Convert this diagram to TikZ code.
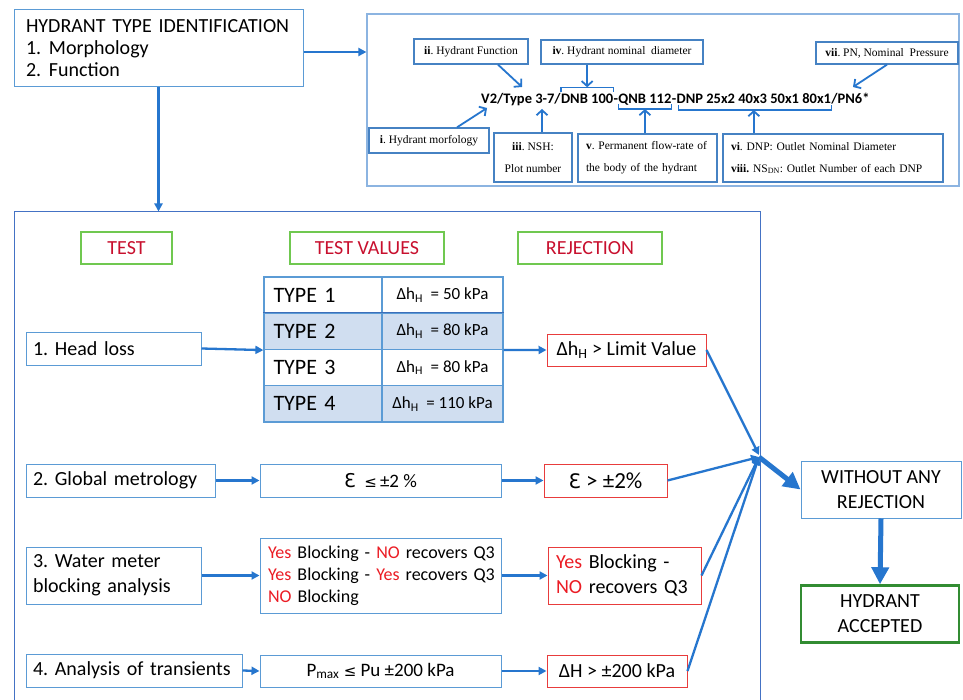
\documentclass[tikz,border=0pt]{standalone}
\usepackage{fontspec}
\setmainfont{Carlito}
\newfontfamily\tnr{Liberation Serif}
\newfontfamily\dejavu{DejaVu Sans}
\usetikzlibrary{arrows.meta}
\definecolor{bbord}{RGB}{91,155,213}
\definecolor{lbord}{RGB}{68,114,196}
\definecolor{tbord}{RGB}{140,180,225}
\definecolor{sbord}{RGB}{70,130,195}
\definecolor{arrblue}{RGB}{38,118,206}
\definecolor{rbord}{RGB}{232,60,60}
\definecolor{gbord}{RGB}{112,200,80}
\definecolor{dgbord}{RGB}{50,140,50}
\definecolor{headred}{RGB}{200,16,46}
\definecolor{yred}{RGB}{235,28,36}
\definecolor{tfill}{RGB}{208,222,240}
\definecolor{tdark}{RGB}{60,110,185}
\newcommand\myfs[2]{\fontsize{#1pt}{#2pt}\selectfont}
\newcommand\ry[1]{\textcolor{yred}{#1}}
\frenchspacing
\begin{document}
\begin{tikzpicture}[x=1pt,y=-1pt,
  blbox/.style={draw=bbord,line width=1pt,fill=white,inner sep=0pt,font=\myfs{20}{25}},
  lft/.style={align=left,inner xsep=7pt},
  sbox/.style={draw=sbord,line width=1.3pt,fill=white,inner sep=0pt,font=\tnr\myfs{11.5}{22}},
  rbox/.style={draw=rbord,line width=1pt,fill=white,inner sep=0pt,font=\myfs{20}{25}},
  hbox/.style={draw=gbord,line width=1.5pt,fill=white,inner sep=0pt,text=headred,font=\myfs{20}{24},minimum height=32pt},
  cell/.style={draw=bbord,line width=1.2pt,inner sep=0pt,minimum height=36.25pt},
  code/.style={inner sep=0pt,font=\myfs{14.5}{17}\bfseries},
  arr/.style={draw=arrblue,line width=2.3pt,-{Triangle[length=8pt,width=8pt]}},
  bigarr/.style={draw=arrblue,line width=5pt,-{Triangle[length=17pt,width=17pt]}},
  tarr/.style={draw=arrblue,line width=1.8pt,-{Straight Barb[length=5pt,width=11pt]}},
  brk/.style={draw=arrblue,line width=1.4pt}
]
\useasboundingbox (0,0) rectangle (963,700);
\fill[white] (0,0) rectangle (963,700);

% ---------- top-left box ----------
\node[blbox,lft,inner xsep=12pt,text width=265pt,minimum width=287pt,minimum height=77pt,font=\myfs{20}{22}] (TL) at (158.5,48.5)
 {\mbox{HYDRANT TYPE IDENTIFICATION}\\\makebox[23pt][l]{1.}Morphology\\\makebox[23pt][l]{2.}Function};

% ---------- top-right box ----------
\node[draw=tbord,line width=1.2pt,fill=white,minimum width=592pt,minimum height=172pt,inner sep=0pt] (TR) at (663,100) {};

\node[sbox,minimum width=114pt,minimum height=25pt] (ii) at (471,51.5) {\textbf{ii}. Hydrant Function};
\node[sbox,minimum width=162pt,minimum height=24pt] (iv) at (622,52) {\textbf{iv}. Hydrant nominal\ \ diameter};
\node[sbox,minimum width=142pt,minimum height=22pt] (vii) at (887,53) {\textbf{vii}. PN, Nominal\ \ Pressure};
\node[sbox,minimum width=120pt,minimum height=25pt] (i) at (429,140.5) {\textbf{i}. Hydrant morfology};
\node[sbox,align=center,minimum width=78pt,minimum height=49pt] (iii) at (533,157.5) {\textbf{iii}. NSH:\\Plot number};
\node[sbox,align=left,inner xsep=8pt,text width=123pt,minimum width=139pt,minimum height=48pt] (v) at (647.5,158)
 {\mbox{\textbf{v}. Permanent flow-rate of}\\\mbox{the body of the hydrant}};
\node[sbox,align=left,inner xsep=8pt,text width=204pt,minimum width=220pt,minimum height=48pt] (vi) at (833,158)
 {\mbox{\textbf{vi}. DNP: Outlet Nominal Diameter}\\\mbox{\textbf{viii.} NS\textsubscript{DN}: Outlet Number of each DNP}};

% code string
\node[code,anchor=base west] (c1) at (481,104) {V2/Type 3-7/};
\node[code,anchor=base west] (c2) at (c1.base east) {DNB 100};
\node[code,anchor=base west] (c3) at (c2.base east) {-};
\node[code,anchor=base west] (c4) at (c3.base east) {QNB 112};
\node[code,anchor=base west] (c5) at (c4.base east) {-};
\node[code,anchor=base west] (c6) at (c5.base east) {DNP 25x2 40x3 50x1 80x1};
\node[code,anchor=base west] (c7) at (c6.base east) {/PN6*};

\coordinate (b2w) at ([yshift=7pt]c2.north west);
\coordinate (b2e) at ([yshift=7pt]c2.north east);
\draw[brk] ([yshift=-5pt]b2w) -- (b2w) -- (b2e) -- ([yshift=-5pt]b2e);
\coordinate (b4w) at ([yshift=-5pt]c4.base west);
\coordinate (b4e) at ([yshift=-5pt]c4.base east);
\draw[brk] ([yshift=5pt]b4w) -- (b4w) -- (b4e) -- ([yshift=5pt]b4e);
\coordinate (b6w) at ([xshift=2pt,yshift=-6pt]c6.base west);
\coordinate (b6e) at ([yshift=-6pt]c6.base east);
\draw[brk] ([yshift=5pt]b6w) -- (b6w) -- (b6e) -- ([yshift=5pt]b6e);

\coordinate (tii) at (522,87);
\coordinate (ti) at (487,108);
\coordinate (tiii) at (542,109);
\coordinate (tvii) at (853,87);
\draw[tarr] ([xshift=27pt]ii.south) -- (tii);
\draw[tarr] (c2.north |- iv.south) -- (c2.north |- b2w);
\draw[tarr] ([xshift=28pt]i.north) -- (ti);
\draw[tarr] ([xshift=9pt]iii.north) -- (tiii);
\draw[tarr] (c4.south |- v.north) -- (c4.south |- b4w);
\draw[tarr] (c6.south |- vi.north) -- (c6.south |- b6w);
\draw[tarr] (vii.south) -- (tvii);

% ---------- lower frame ----------
\node[draw=lbord,line width=1pt,minimum width=746pt,minimum height=493pt,inner sep=0pt] (LB) at (387,458.5) {};

\draw[arr] (TL.east |- 0,52) -- (TR.west |- 0,52);
\draw[arr] (TL.south) -- (TL.south |- LB.north);

% headers
\node[hbox,minimum width=91pt] (H1) at (126.5,248) {TEST};
\node[hbox,minimum width=154pt] (H2) at (367,248) {TEST VALUES};
\node[hbox,minimum width=144pt] (H3) at (590,248) {REJECTION};

% table
\node[cell,minimum width=118pt,align=left,text width=109pt,inner xsep=0pt,font=\myfs{22}{24}] (T1a) at (323,295.125) {\hspace*{5pt}TYPE 1};
\node[cell,minimum width=121pt,font=\myfs{17}{20}] (T1b) at (442.5,295.125) {Δh\textsubscript{H}\ \ = 50 kPa};
\node[cell,fill=tfill,minimum width=118pt,align=left,text width=109pt,inner xsep=0pt,font=\myfs{22}{24}] (T2a) at (323,331.375) {\hspace*{5pt}TYPE 2};
\node[cell,fill=tfill,minimum width=121pt,font=\myfs{17}{20}] (T2b) at (442.5,331.375) {Δh\textsubscript{H}\ \ = 80 kPa};
\node[cell,minimum width=118pt,align=left,text width=109pt,inner xsep=0pt,font=\myfs{22}{24}] (T3a) at (323,367.625) {\hspace*{5pt}TYPE 3};
\node[cell,minimum width=121pt,font=\myfs{17}{20}] (T3b) at (442.5,367.625) {Δh\textsubscript{H}\ \ = 80 kPa};
\node[cell,fill=tfill,minimum width=118pt,align=left,text width=109pt,inner xsep=0pt,font=\myfs{22}{24}] (T4a) at (323,403.875) {\hspace*{5pt}TYPE 4};
\node[cell,fill=tfill,minimum width=121pt,font=\myfs{17}{20}] (T4b) at (442.5,403.875) {Δh\textsubscript{H}\ \ = 110 kPa};
\draw[draw=tdark,line width=1.5pt] (T2a.north west) -- (T2b.north east);

% row 1
\node[blbox,lft,text width=161pt,minimum width=175pt,minimum height=33pt] (HL) at (113.5,348.5) {1. Head loss};
\node[rbox,minimum width=159pt,minimum height=32pt] (LV) at (626.5,350) {Δh\textsubscript{H} > Limit Value};
\draw[arr] (HL.east) -- (T2a.south west);
\draw[arr] (T2b.south east) -- (LV.west);

% row 2
\node[blbox,lft,text width=175pt,minimum width=189pt,minimum height=33pt] (GM) at (120.5,480.5) {2. Global metrology};
\node[blbox,minimum width=241pt,minimum height=33pt,font=\myfs{19}{22}] (GV) at (380.5,480.5) {{\dejavu\myfs{19}{22}Ɛ}\ \ {\dejavu\myfs{15}{20}≤}\,±2 \%};
\node[rbox,minimum width=123pt,minimum height=33pt,font=\myfs{23}{26}] (GR) at (605.5,480.5) {{\dejavu\myfs{20}{24}Ɛ} > ±2\%};
\draw[arr] (GM.east) -- (GV.west);
\draw[arr] (GV.east) -- (GR.west);

% row 3
\node[blbox,lft,text width=161pt,minimum width=175pt,minimum height=57pt] (WM) at (113.5,575.5) {3. Water meter\\blocking analysis};
\node[blbox,lft,inner xsep=8pt,text width=225pt,minimum width=241pt,minimum height=75pt,font=\myfs{18}{22}] (WV) at (380.5,575.5)
 {\mbox{\ry{Yes} Blocking - \ry{NO} recovers Q3}\\\mbox{\ry{Yes} Blocking - \ry{Yes} recovers Q3}\\\mbox{\ry{NO} Blocking}};
\node[rbox,align=left,inner xsep=8pt,text width=137pt,minimum width=153pt,minimum height=57pt] (WR) at (624.5,575.5)
 {\mbox{\ry{Yes} Blocking -}\\\mbox{\ry{NO} recovers Q3}};
\draw[arr] (WM.east) -- (WV.west);
\draw[arr] (WV.east) -- (WR.west);

% row 4
\node[blbox,lft,text width=202pt,minimum width=216pt,minimum height=33pt] (AT) at (134,670.5) {\mbox{4. Analysis of transients}};
\node[blbox,minimum width=241pt,minimum height=32pt,font=\myfs{19}{22}] (AV) at (380.5,671) {P\textsubscript{max} {\dejavu\myfs{15}{20}≤} Pu ±200 kPa};
\node[rbox,minimum width=140pt,minimum height=32pt] (AR) at (617,671) {ΔH > ±200 kPa};
\draw[arr] (AT.east) -- (AV.west);
\draw[arr] (AV.east) -- (AR.west);

% convergence
\coordinate (J) at (759,457);
\coordinate (J1) at (759,455);
\node[blbox,align=center,minimum width=160pt,minimum height=57pt] (WAR) at (881,489.5) {WITHOUT ANY\\REJECTION};
\node[draw=dgbord,line width=2.5pt,fill=white,inner sep=0pt,align=center,font=\myfs{20}{25},minimum width=158pt,minimum height=57pt] (HA) at (880,614) {HYDRANT\\ACCEPTED};
\draw[arr] (LV.east) -- (J1);
\draw[arr] (GR.east) -- (J);
\draw[arr] (WR.east) -- (J);
\draw[arr] (AR.east) -- (J);
\draw[bigarr] (J) -- (WAR.west);
\draw[bigarr] (WAR.south) -- (HA.north);
\end{tikzpicture}
\end{document}
